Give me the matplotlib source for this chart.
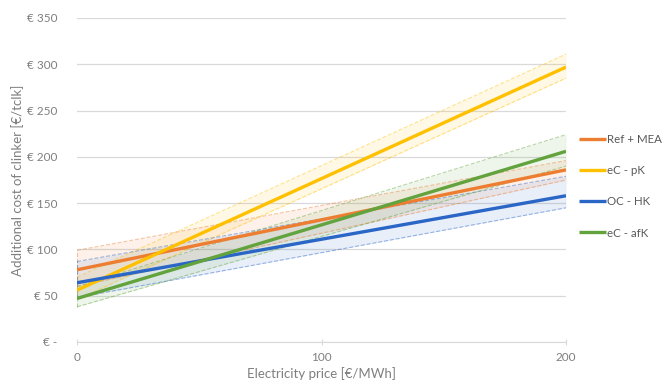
import matplotlib.pyplot as plt
import numpy as np

plt.rcParams['font.family'] = ['Lato', 'DejaVu Sans']

# electricity price [EUR/MWh]
price = [0, 200]

names = ["Ref + MEA", "eC - pK", "OC - HK", "eC - afK"]
colors = ["#ED7D31", "#FFC000", "#2A66C6", "#62A33E"]

# central estimate and band (low/high) at price 0 and 200
mid = [[78, 186], [56, 297], [64, 158], [47, 206]]
low = [[60, 175], [46, 285], [48, 145], [38, 190]]
high = [[99, 196], [70, 311], [87, 179], [60, 224]]

yticks = [0, 50, 100, 150, 200, 250, 300, 350]
ylabels = ["€ -", "€ 50", "€ 100", "€ 150", "€ 200", "€ 250", "€ 300", "€ 350"]
xticks = [0, 100, 200]

grey = "#7f7f7f"

fig = plt.figure(figsize=(6.71, 3.84), dpi=100)
ax = fig.add_axes([77 / 671, 1 - 342 / 384, (566 - 77) / 671, (342 - 18) / 384])

for i in range(len(names)):
    c = colors[i]
    ax.fill_between(price, low[i], high[i], color=c, alpha=0.1, lw=0)
    ax.plot(price, low[i], color=c, ls="--", lw=0.8, alpha=0.45)
    ax.plot(price, high[i], color=c, ls="--", lw=0.8, alpha=0.45)
    ax.plot([0, 0], [low[i][0], high[i][0]], color=c, ls="--", lw=0.8, alpha=0.45)
    ax.plot([200, 200], [low[i][1], high[i][1]], color=c, ls="--", lw=0.8, alpha=0.45)

lines = []
for i in range(len(names)):
    l, = ax.plot(price, mid[i], color=colors[i], lw=2.4, solid_capstyle="butt", zorder=5)
    lines.append(l)

ax.set_xlim(0, 200)
ax.set_ylim(0, 350)
ax.set_yticks(yticks)
ax.set_yticklabels(ylabels)
ax.set_xticks(xticks)
ax.grid(axis="y", color="#d9d9d9", lw=0.9)
ax.set_axisbelow(True)
for s in ["top", "right", "left"]:
    ax.spines[s].set_visible(False)
ax.spines["bottom"].set_color("#d9d9d9")
ax.tick_params(axis="y", length=0, labelsize=8.5, labelcolor=grey, pad=14)
ax.tick_params(axis="x", length=4, direction="inout", color="#d9d9d9", labelsize=8.5,
               labelcolor=grey, pad=5)

ax.set_xlabel("Electricity price [€/MWh]", fontsize=9.5, color=grey, labelpad=3)
ax.set_ylabel("Additional cost of clinker [€/tclk]", fontsize=9.5, color=grey, labelpad=2)

fig.legend(lines, names, loc="upper left", bbox_to_anchor=(579 / 671, 1 - 134 / 384),
           frameon=False, fontsize=8.3, labelcolor="#595959", handlelength=2.3,
           handletextpad=0.15, labelspacing=1.75, borderpad=0, borderaxespad=0)

fig.savefig("out.png", dpi=100)
